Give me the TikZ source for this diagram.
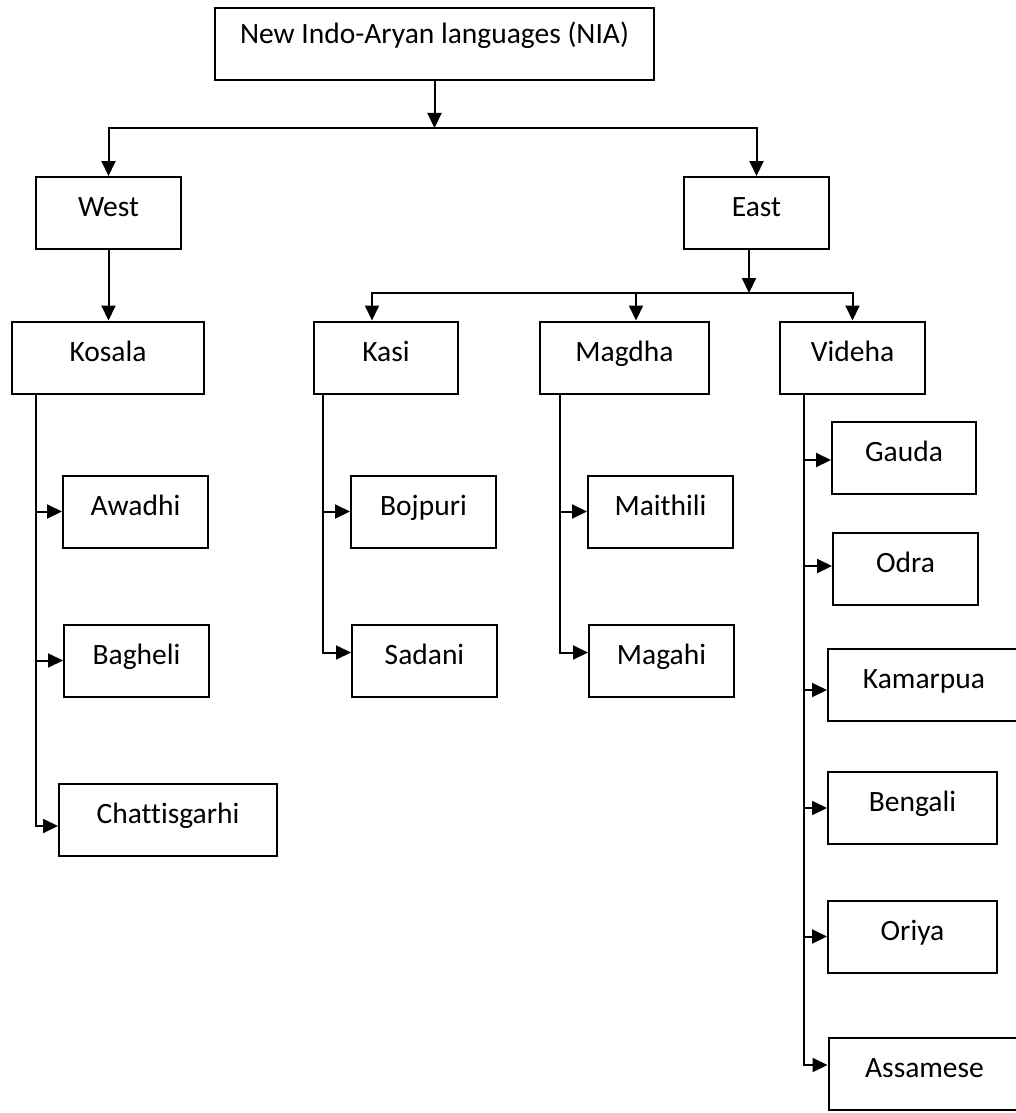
\documentclass[tikz,border=0pt]{standalone}
\usepackage{fontspec}
\setmainfont{Carlito}[Ligatures=CommonOff]
\usetikzlibrary{arrows.meta}

\begin{document}
\begin{tikzpicture}[x=0.5pt, y=-0.5pt, line width=1pt, >={Triangle[length=7.5pt,width=7pt]},
    box/.style = {draw, rectangle, inner sep=0pt, minimum height=36pt, minimum width=#1, text height=10pt, text depth=6.5pt, font=\fontsize{14.75}{18}\selectfont},
    box/.default = {72.5pt}]
    \useasboundingbox (0,0) rectangle (1016,1113);

    \node[box=219.5pt, text depth=10.5pt] (nia) at (434.5,44.5) {New Indo-Aryan languages (NIA)};
    \node[box] (west) at (108.5,213) {West};
    \node[box] (east) at (756.5,213) {East};

    \node[box=96pt] (kosala) at (108,357.5) {Kosala};
    \node[box=72pt] (kasi) at (386,357.5) {Kasi};
    \node[box=84.5pt] (magdha) at (624.5,357.5) {Magdha};
    \node[box] (videha) at (852.5,357.5) {Videha};

    \node[box] (awadhi) at (135.5,511.5) {Awadhi};
    \node[box] (bagheli) at (136.5,660.5) {Bagheli};
    \node[box=109pt] (chattis) at (168,820) {Chattisgarhi};

    \node[box] (bojpuri) at (423.5,511.5) {Bojpuri};
    \node[box] (sadani) at (424.5,660.5) {Sadani};

    \node[box] (maithili) at (660.5,511.5) {Maithili};
    \node[box] (magahi) at (661.5,660.5) {Magahi};

    \node[box=72pt] (gauda) at (904,458) {Gauda};
    \node[box] (odra) at (905.5,569) {Odra};
    \node[box=96pt] (kamarpua) at (924,685) {Kamarpua};
    \node[box=84.5pt] (bengali) at (912.5,808) {Bengali};
    \node[box=84.5pt] (oriya) at (912.5,936.5) {Oriya};
    \node[box=96pt] (assamese) at (924.5,1073.5) {Assamese};

    % top split
    \coordinate (split1) at (434.5,128);
    \draw[->] (nia.south) -- (split1);
    \draw[->] (split1) -| (west.north);
    \draw[->] (split1) -| (east.north);

    \draw[->] (west.south) -- (west.south |- kosala.north);

    % east split
    \coordinate (split2) at (749,293);
    \draw[->] (split2 |- east.south) -- (split2);
    \draw[->] (split2) -| ([xshift=-7pt]kasi.north);
    \draw[->] (split2) -| ([xshift=5.75pt]magdha.north);
    \draw[->] (split2) -| (videha.north);

    % Kosala
    \coordinate (ktrunk) at ([xshift=12.5pt]kosala.south west);
    \draw[->] (ktrunk |- awadhi.west) -- (awadhi.west);
    \draw[->] (ktrunk |- bagheli.west) -- (bagheli.west);
    \draw[->] (ktrunk) |- ([yshift=-3pt]chattis.west);

    % Kasi
    \coordinate (kstrunk) at ([xshift=5pt]kasi.south west);
    \draw[->] (kstrunk |- bojpuri.west) -- (bojpuri.west);
    \draw[->] (kstrunk) |- ([yshift=4pt]sadani.west);

    % Magdha
    \coordinate (mtrunk) at ([xshift=10.5pt]magdha.south west);
    \draw[->] (mtrunk |- maithili.west) -- (maithili.west);
    \draw[->] (mtrunk) |- ([yshift=4pt]magahi.west);

    % Videha
    \coordinate (vtrunk) at ([xshift=12.25pt]videha.south west);
    \draw[->] ([yshift=-1pt]gauda.west -| vtrunk) -- ([yshift=-1pt]gauda.west);
    \draw[->] ([yshift=1.5pt]odra.west -| vtrunk) -- ([yshift=1.5pt]odra.west);
    \draw[->] ([yshift=-2.5pt]kamarpua.west -| vtrunk) -- ([yshift=-2.5pt]kamarpua.west);
    \draw[->] (bengali.west -| vtrunk) -- (bengali.west);
    \draw[->] (oriya.west -| vtrunk) -- (oriya.west);
    \draw[->] (vtrunk) |- ([yshift=4.25pt]assamese.west);
\end{tikzpicture}
\end{document}
